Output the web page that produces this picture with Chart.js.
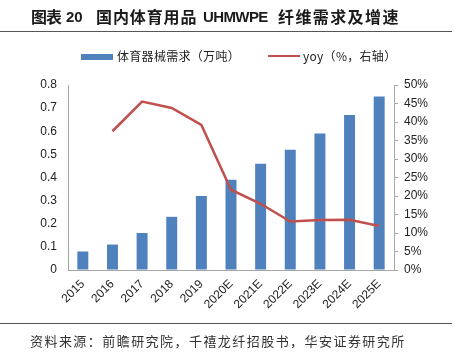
<!DOCTYPE html>
<html><head><meta charset="utf-8">
<script src="https://cdn.jsdelivr.net/npm/chart.js@4.4.0/dist/chart.umd.min.js"></script>
<style>
html,body{margin:0;padding:0;background:#fff;}
#wrap{position:relative;width:463px;height:356px;overflow:hidden;}
#c{position:absolute;left:0;top:0;}
.t{position:absolute;white-space:nowrap;}
.ti{position:absolute;top:6px;height:20px;line-height:20px;white-space:nowrap;font:bold 16px/20px "Noto Sans CJK SC","Liberation Sans",sans-serif;color:#1a1a1a;letter-spacing:0.9px;}
.ti.en{font-family:"Liberation Sans",Arial,sans-serif;font-size:15px;letter-spacing:0;top:7px;}
.hr{position:absolute;left:0;width:452px;height:1px;background:#555;}
.leg{font:12px "Noto Sans CJK SC",sans-serif;color:#222;letter-spacing:0.3px;top:47px;}
#src{left:30px;top:331px;font:13px "Noto Sans CJK SC",sans-serif;color:#333;letter-spacing:1.45px;}
</style></head>
<body><div id="wrap">
<canvas id="c" width="463" height="356"></canvas>
<div class="ti" style="left:31px;letter-spacing:-1px">图表</div>
<div class="ti en" style="left:66px">20</div>
<div class="ti" style="left:96px">国内体育用品</div>
<div class="ti en" style="left:203px;letter-spacing:-0.6px">UHMWPE</div>
<div class="ti" style="left:278px;letter-spacing:1.4px">纤维需求及增速</div>
<div class="hr" style="top:31px"></div>
<div style="position:absolute;left:81px;top:54px;width:32px;height:6px;background:#4F81BD"></div>
<div class="t leg" style="left:117px">体育器械需求（万吨）</div>
<div style="position:absolute;left:268px;top:55px;width:32px;height:2px;background:#C0504D"></div>
<div class="t leg" style="left:303px">yoy（%，右轴）</div>
<div class="hr" style="top:323px"></div>
<div class="t" id="src">资料来源：前瞻研究院，千禧龙纤招股书，华安证券研究所</div>
</div>
<script>
const categories = ['2015','2016','2017','2018','2019','2020E','2021E','2022E','2023E','2024E','2025E'];
const demand = [0.08,0.11,0.16,0.23,0.32,0.39,0.46,0.52,0.59,0.67,0.75];
const yoy = [null,37.5,45.5,43.8,39.2,21.7,17.9,13.1,13.5,13.6,11.9];
const leftTicks = [0,0.1,0.2,0.3,0.4,0.5,0.6,0.7,0.8];

const tickFont = {family:'"Liberation Sans", Arial, sans-serif', size:12};
const axisGray = '#A6A6A6';
new Chart(document.getElementById('c'), {
  data:{
    labels:categories,
    datasets:[
      {type:'line', label:'yoy（%，右轴）', data:yoy, yAxisID:'y1', borderColor:'#C0504D', backgroundColor:'#C0504D',
       borderWidth:2.5, pointRadius:0, tension:0, order:0},
      {type:'bar', label:'体育器械需求（万吨）', data:demand, yAxisID:'y', backgroundColor:'#4F81BD',
       barPercentage:0.37, categoryPercentage:1, order:1}
    ]
  },
  options:{
    responsive:false, animation:false,
    layout:{padding:{top:85,left:0,right:0,bottom:0}},
    plugins:{legend:{display:false}, tooltip:{enabled:false}},
    scales:{
      x:{
        grid:{drawOnChartArea:false, drawTicks:false},
        border:{display:true,color:axisGray,width:1},
        ticks:{font:tickFont,color:'#222',minRotation:45,maxRotation:45,padding:7,autoSkip:false},
        afterFit(s){s.height=86;}
      },
      y:{
        position:'left', min:0, max:0.8,
        grid:{drawOnChartArea:false, drawTicks:false},
        border:{display:true,color:axisGray,width:1},
        ticks:{font:tickFont,color:'#222',padding:11,stepSize:0.1,
          callback:(v)=>{const f=leftTicks.find(t=>Math.abs(t-v)<1e-6);return f===undefined?'':(f===0?'0':String(f));}},
        afterFit(s){s.width=68;}
      },
      y1:{
        position:'right', min:0, max:50,
        grid:{drawOnChartArea:false, drawTicks:true, tickLength:4, color:axisGray},
        border:{display:true,color:axisGray,width:1},
        ticks:{font:tickFont,color:'#222',padding:6,stepSize:5,callback:(v)=>v+'%'},
        afterFit(s){s.width=69;}
      }
    }
  }
});
</script>
</body></html>
